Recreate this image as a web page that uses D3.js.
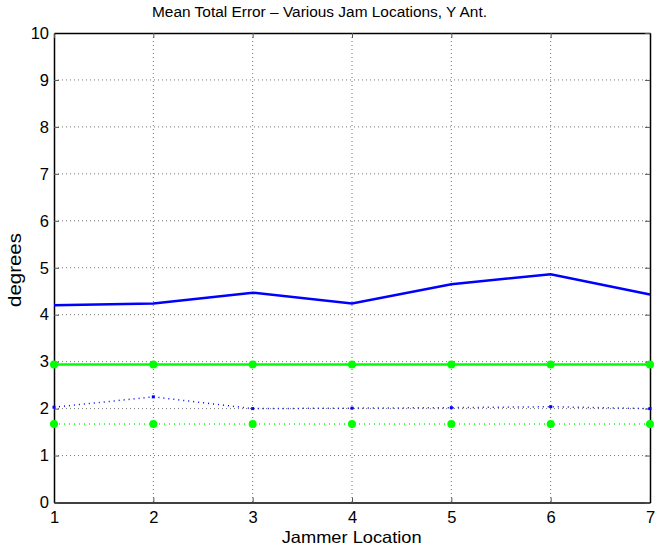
<!DOCTYPE html>
<html><head><meta charset="utf-8">
<script src="https://cdn.jsdelivr.net/npm/d3@7"></script>
<style>body{margin:0;background:#fff;} text{font-family:"Liberation Sans",Arial,sans-serif;}</style>
</head><body>
<svg id="c" width="670" height="549"></svg>
<script>
const locations = [1,2,3,4,5,6,7];
const blueSolid = [4.20,4.24,4.47,4.24,4.65,4.86,4.43];
const greenSolid = [2.94,2.94,2.94,2.94,2.94,2.94,2.94];
const blueDotted = [2.03,2.25,2.00,2.01,2.02,2.04,2.00];
const greenDotted = [1.67,1.67,1.67,1.67,1.67,1.67,1.67];
const xTicks = [1,2,3,4,5,6,7];
const yTicks = [0,1,2,3,4,5,6,7,8,9,10];

const svg = d3.select("#c");
const L=54, R=650, T=33, B=502.5;
const x = d3.scaleLinear().domain([1,7]).range([L,R]);
const y = d3.scaleLinear().domain([0,10]).range([B,T]);

// grid
const g = svg.append("g");
g.selectAll(".gx").data(xTicks.slice(1,-1)).enter().append("line")
  .attr("x1",d=>x(d)).attr("x2",d=>x(d)).attr("y1",T).attr("y2",B)
  .attr("stroke","#777").attr("stroke-width",1).attr("stroke-dasharray","1,3");
g.selectAll(".gy").data(yTicks.slice(1,-1)).enter().append("line")
  .attr("y1",d=>y(d)).attr("y2",d=>y(d)).attr("x1",L).attr("x2",R)
  .attr("stroke","#777").attr("stroke-width",1).attr("stroke-dasharray","1,3");

// axes
const ax = svg.append("g").attr("transform",`translate(0,${B})`)
  .call(d3.axisBottom(x).tickValues(xTicks).tickFormat(d3.format("d")).tickSizeInner(-5).tickSizeOuter(0).tickPadding(9));
const ay = svg.append("g").attr("transform",`translate(${L},0)`)
  .call(d3.axisLeft(y).tickValues(yTicks).tickFormat(d3.format("d")).tickSizeInner(-5).tickSizeOuter(0).tickPadding(5));
const axT = svg.append("g").attr("transform",`translate(0,${T})`)
  .call(d3.axisTop(x).tickValues(xTicks).tickFormat("").tickSizeInner(-5).tickSizeOuter(0));
const ayR = svg.append("g").attr("transform",`translate(${R},0)`)
  .call(d3.axisRight(y).tickValues(yTicks).tickFormat("").tickSizeInner(-5).tickSizeOuter(0));
[ax,ay,axT,ayR].forEach(a=>{
  a.select(".domain").attr("stroke","#000").attr("stroke-width",1.5);
  a.selectAll(".tick line").attr("stroke","#555").attr("stroke-width",1);
  a.selectAll(".tick text").attr("fill","#000").style("font-size","16.5px").style("font-family","'Liberation Sans',Arial,sans-serif");
});

const line = d3.line().x((d,i)=>x(locations[i])).y(d=>y(d));

svg.append("path").datum(blueSolid).attr("d",line).attr("fill","none").attr("stroke","#0000ff").attr("stroke-width",2.5);
svg.append("path").datum(blueDotted).attr("d",line).attr("fill","none").attr("stroke","#0000ff").attr("stroke-width",1.5).attr("stroke-dasharray","1,4");
svg.selectAll(".bd").data(blueDotted).enter().append("rect")
  .attr("x",(d,i)=>x(locations[i])-1.5).attr("y",d=>y(d)-1.5).attr("width",3).attr("height",3).attr("fill","#0000ff");

svg.append("path").datum(greenSolid).attr("d",line).attr("fill","none").attr("stroke","#00ff00").attr("stroke-width",2.5);
svg.append("path").datum(greenDotted).attr("d",line).attr("fill","none").attr("stroke","#00ff00").attr("stroke-width",1.5).attr("stroke-dasharray","1,4");
svg.selectAll(".gs").data(greenSolid).enter().append("circle")
  .attr("cx",(d,i)=>x(locations[i])).attr("cy",d=>y(d)).attr("r",4).attr("fill","#00ff00");
svg.selectAll(".gd").data(greenDotted).enter().append("circle")
  .attr("cx",(d,i)=>x(locations[i])).attr("cy",d=>y(d)).attr("r",4).attr("fill","#00ff00");

svg.append("text").attr("x",319.5).attr("y",17).attr("text-anchor","middle").style("font-size","14px")
  .attr("textLength",335).attr("lengthAdjust","spacingAndGlyphs").text("Mean Total Error – Various Jam Locations, Y Ant.");
svg.append("text").attr("x",351.7).attr("y",543).attr("text-anchor","middle").style("font-size","16.5px")
  .attr("textLength",140).attr("lengthAdjust","spacingAndGlyphs").text("Jammer Location");
svg.append("text").attr("transform",`translate(21,270) rotate(-90)`).attr("text-anchor","middle").style("font-size","17.5px")
  .attr("textLength",74).attr("lengthAdjust","spacingAndGlyphs").text("degrees");
</script>
</body></html>
